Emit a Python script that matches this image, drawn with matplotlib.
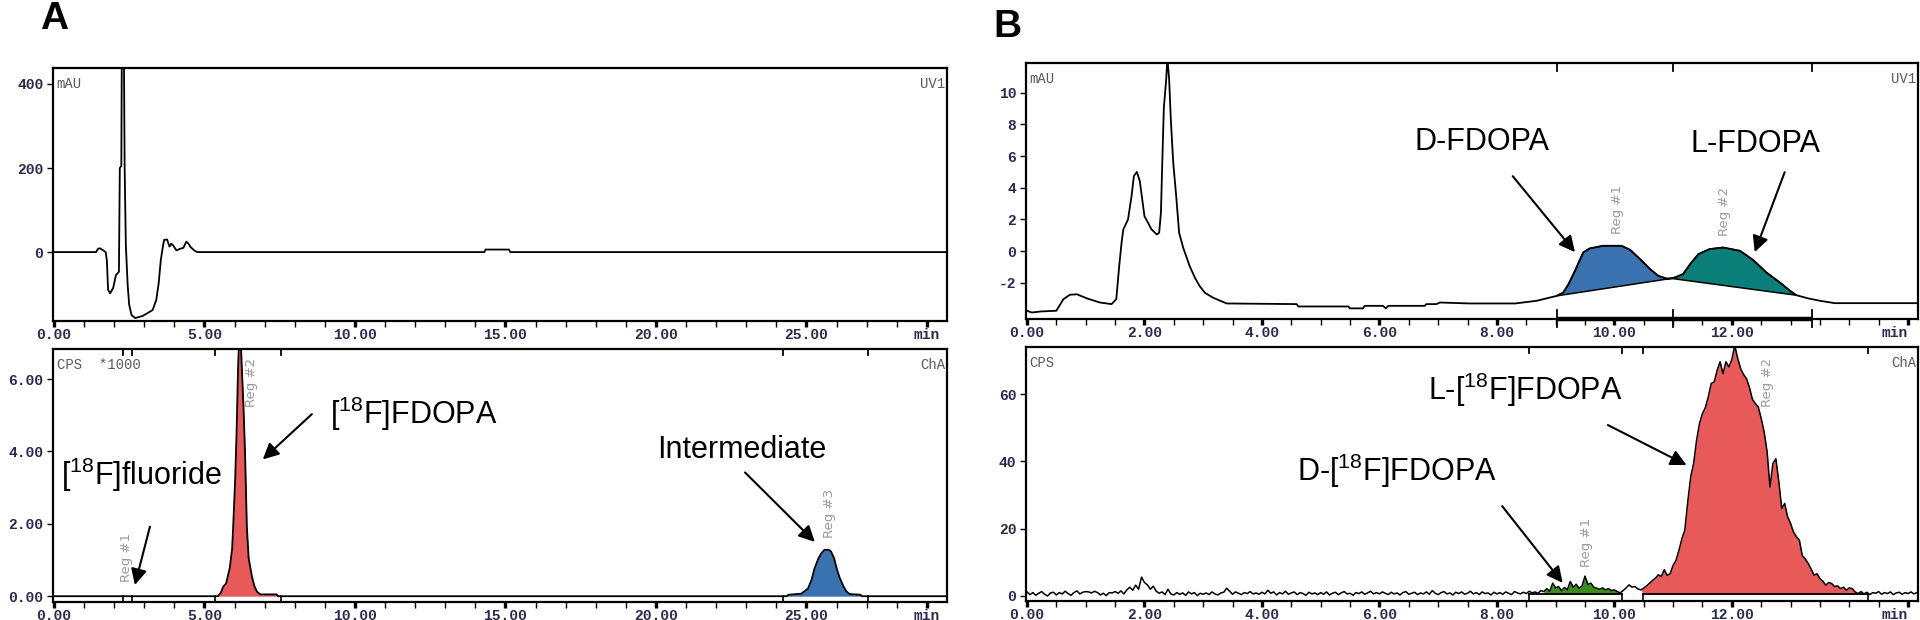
import numpy as np
import matplotlib.pyplot as plt

plt.rcParams['font.family'] = ['Liberation Sans', 'DejaVu Sans']
plt.rcParams['mathtext.fontset'] = 'custom'
plt.rcParams['mathtext.rm'] = 'Liberation Sans'

# ---------------- Panel A: UV trace (mAU) ----------------
a_uv_t = [0.00, 1.40, 1.47, 1.53, 1.62, 1.72, 1.76, 1.80, 1.87, 1.97,
          2.06, 2.16, 2.19, 2.24, 2.26, 2.32, 2.35, 2.39, 2.45, 2.50,
          2.58, 2.70, 2.95, 3.28, 3.40, 3.48, 3.55, 3.60, 3.66, 3.76,
          3.84, 3.90, 3.97, 4.07, 4.20, 4.30, 4.40, 4.47, 4.54, 4.66,
          4.76, 14.30, 14.34, 15.12, 15.16, 29.70]
a_uv_v = [0, 0, 8, 9, 5, 0, -20, -90, -98, -85,
          -55, -47, 200, 205, 540, 540, 200, 17, -78, -125,
          -150, -157, -152, -138, -114, -75, -20, 4, 29, 30,
          13, 20, 15, 4, 8, 10, 25, 20, 12, 4,
          0, 0, 6, 6, 0, 0]

# ---------------- Panel A: radio trace (CPS*1000) ----------------
a_rad_t = [0.00, 5.45, 5.55, 5.62, 5.72, 5.84, 5.92, 5.96, 6.02, 6.07,
           6.12, 6.16, 6.20, 6.24, 6.30, 6.35, 6.41, 6.47, 6.58, 6.66,
           6.75, 6.86, 7.40, 7.45, 24.35, 24.40, 24.83, 25.05, 25.17, 25.27,
           25.40, 25.49, 25.60, 25.75, 25.82, 25.92, 25.99, 26.10, 26.21, 26.32,
           26.43, 26.80, 26.85, 29.70]
a_rad_v = [0, 0, 0.10, 0.26, 0.35, 0.77, 1.30, 2.00, 3.18, 4.56,
           6.37, 7.20, 7.20, 6.37, 5.20, 3.96, 1.92, 1.05, 0.54, 0.28,
           0.12, 0.05, 0.05, 0, 0, 0.04, 0.07, 0.21, 0.45, 0.77,
           1.05, 1.18, 1.28, 1.28, 1.23, 1.05, 0.81, 0.52, 0.31, 0.14,
           0.06, 0.04, 0, 0]
a_reg_bounds = [2.30, 2.60, 5.35, 7.56, 24.21, 27.03]
a_reg_names = ['Reg #1', 'Reg #2', 'Reg #3']
a_reg_label_pos = [(2.42, 1.08), (6.57, 5.9), (25.78, 2.28)]

# ---------------- Panel B: UV trace (mAU) ----------------
b_uv_t = [0.00, 0.08, 0.25, 0.50, 0.62, 0.73, 0.85, 1.02, 1.24, 1.44,
          1.52, 1.57, 1.61, 1.64, 1.72, 1.78, 1.82, 1.87, 1.92, 2.00,
          2.12, 2.21, 2.25, 2.28, 2.30, 2.33, 2.37, 2.39, 2.42, 2.45,
          2.49, 2.54, 2.59, 2.66, 2.77, 2.86, 2.94, 3.03, 3.17, 3.40,
          4.59, 4.62, 5.47, 5.50, 5.72, 5.75, 6.06, 6.11, 6.15, 6.77,
          6.80, 6.97, 7.03, 7.54, 8.31, 8.68, 9.02, 9.13, 9.22, 9.33,
          9.47, 9.58, 9.81, 10.12, 10.27, 10.44, 10.61, 10.75, 10.89, 10.97,
          11.03, 11.17, 11.29, 11.43, 11.62, 11.85, 12.14, 12.36, 12.59, 12.82,
          12.99, 13.10, 13.30, 13.50, 13.75, 15.17]
b_uv_v = [-3.76, -3.87, -3.80, -3.76, -3.03, -2.75, -2.72, -2.98, -3.24, -3.34,
          -3.03, -0.93, 0.53, 1.37, 2.00, 3.48, 4.74, 5.00, 4.43, 2.21,
          1.37, 1.05, 1.16, 2.42, 5.16, 9.05, 10.84, 12.20, 10.84, 8.20,
          5.58, 3.48, 1.16, 0.21, -0.95, -1.68, -2.21, -2.63, -2.94, -3.30,
          -3.34, -3.49, -3.49, -3.61, -3.61, -3.45, -3.45, -3.61, -3.45, -3.45,
          -3.34, -3.34, -3.24, -3.30, -3.30, -3.13, -2.82, -2.61, -2.08, -1.24,
          -0.08, 0.17, 0.34, 0.34, 0.08, -0.51, -1.14, -1.56, -1.73, -1.72,
          -1.66, -1.45, -0.82, -0.19, 0.13, 0.23, 0.02, -0.55, -1.35, -1.98,
          -2.50, -2.78, -2.98, -3.13, -3.28, -3.28]
b_uv_regions = [(9.02, 10.97), (10.97, 13.10)]
b_uv_marks = [9.02, 11.0, 13.36]
b_uv_names = ['Reg #1', 'Reg #2']
b_uv_label_pos = [(10.06, 2.65), (11.88, 2.52)]

# ---------------- Panel B: radio trace (CPS), sampled every 0.05 min ----------------
b_rad_step = 0.05
b_rad_v = [
    1.2, 0.4, 1.0, 0.2, 0.8, 1.3, 0.5, 0.0, 0.9, 1.1, 0.3, 1.0, 0.6, 1.4, 0.7, 0.2, 1.0, 1.5, 0.6, 1.1,
    1.3, 1.2, 0.9, 1.4, 1.0, 0.3, 0.8, 0.1, 1.0, 0.9, 1.3, 0.8, 1.5, 0.6, 1.8, 2.6, 1.7, 3.2, 2.0, 5.6,
    4.0, 3.3, 2.0, 2.9, 1.4, 0.8, 1.2, 0.4, 2.0, 0.6, 0.3, 1.0, 0.5, 0.9, 0.2, 1.2, 0.6, 1.0, 0.1, 0.8,
    0.5, 0.9, 0.4, 1.2, 0.6, 0.3, 0.9, 1.1, 2.3, 1.4, 0.5, 1.2, 0.8, 0.4, 1.0, 0.7, 1.3, 0.6, 0.9, 0.5,
    1.1, 0.6, 1.7, 0.8, 1.2, 0.3, 1.0, 0.6, 1.4, 0.5, 0.9, 1.2, 0.4, 1.0, 0.7, 0.2, 1.1, 0.6, 0.9, 0.4,
    1.0, 0.5, 1.2, 0.3, 0.8, 1.1, 0.4, 0.9, 1.3, 0.6, 0.8, 0.2, 1.0, 0.7, 1.2, 0.5, 0.9, 1.4, 0.6, 1.0,
    0.6, 1.2, 0.8, 0.4, 1.1, 0.6, 0.9, 0.3, 1.0, 1.3, 0.5, 0.8, 1.1, 0.4, 0.9, 0.6, 1.2, 0.5, 1.6, 0.8,
    0.4, 1.0, 1.3, 0.6, 0.9, 0.3, 1.1, 0.7, 1.2, 0.5, 0.8, 1.4, 0.6, 1.0, 0.4, 1.2, 0.7, 0.9, 0.3, 1.1,
    0.6, 1.0, 0.5, 1.2, 0.8, 0.4, 1.3, 0.9, 0.6, 1.1, 0.7, 1.4, 0.9, 1.2, 0.8, 1.6, 1.3, 2.2, 1.4, 3.8,
    2.4, 2.8, 1.6, 2.5, 1.9, 4.3, 2.6, 3.5, 2.2, 3.0, 5.9, 3.4, 3.8, 2.6, 2.3, 2.0, 2.4, 1.8, 2.2, 1.6,
    1.8, 1.3, 0.9, 1.6, 2.4, 3.3, 2.6, 2.8, 2.1, 1.8, 2.3, 3.0, 3.8, 4.6, 5.3, 6.3, 5.8, 7.8, 6.1, 6.6,
    9.1, 10.6, 13.6, 17.0, 19.6, 28.0, 35.4, 39.4, 46.3, 51.3, 54.2, 56.0, 59.2, 63.2, 63.6, 67.1, 69.6, 66.1, 69.6, 68.1,
    70.2, 74.5, 70.6, 67.6, 65.8, 64.6, 62.0, 58.5, 57.2, 56.2, 52.8, 48.8, 43.0, 32.4, 39.4, 40.8, 34.0, 26.0, 27.5, 23.5,
    21.6, 19.0, 17.6, 16.6, 12.0, 11.0, 9.7, 8.0, 6.2, 6.6, 5.2, 4.4, 3.2, 4.0, 3.7, 2.8, 3.0, 2.2, 2.6, 1.7,
    2.4, 2.2, 1.2, 0.7, 1.3, 0.6, 1.1, 0.4, 1.0, 0.8, 1.3, 0.5, 1.0, 0.7, 1.2, 0.4, 0.9, 1.1, 0.5, 1.0,
    0.7, 1.2, 0.6, 1.0,
]
b_rad_regions = [(8.55, 10.13), (10.49, 14.32)]
b_rad_fill = [(8.80, 10.10), (10.50, 14.20)]
b_rad_base = 0.5
b_rad_names = ['Reg #1', 'Reg #2']
b_rad_label_pos = [(9.53, 16.0), (12.6, 63.6)]

RED = '#e85a5a'
BLUE = '#3a72b0'
TEAL = '#0a7f7a'
GREEN = '#3d8c1e'
TICK_FONT = dict(family='Liberation Mono', size=10.5, color='#2a2a4a', weight='bold')
CORNER_FONT = dict(family='Liberation Mono', fontsize=10, color='#5f5566')
REG_FONT = dict(family='DejaVu Sans', fontsize=9.5, color='#9a9a9a', rotation=90,
                ha='center', va='center')

fig = plt.figure(figsize=(19.2, 6.2), dpi=100)
W, H = 1920.0, 620.0


def make_axes(left, top, right, bottom):
    return fig.add_axes([left / W, 1 - bottom / H, (right - left) / W, (bottom - top) / H])


def style(ax, xlim, major, labels, minor_step, yticks, ylabels, min_right=False):
    ax.set_xlim(*xlim)
    ax.set_xticks(major)
    ax.set_xticklabels(labels)
    ax.set_xticks(np.arange(0, xlim[1], minor_step), minor=True)
    ax.set_yticks(yticks)
    ax.set_yticklabels(ylabels)
    for s in ax.spines.values():
        s.set_linewidth(1.6)
    ax.tick_params(axis='x', which='major', direction='out', length=4, width=2.4, pad=1)
    ax.tick_params(axis='x', which='minor', direction='out', length=4, width=1)
    ax.tick_params(axis='y', direction='out', length=4, width=1, pad=3)
    for lab in ax.get_xticklabels() + ax.get_yticklabels():
        lab.set_fontfamily(TICK_FONT['family'])
        lab.set_fontsize(TICK_FONT['size'])
        lab.set_color(TICK_FONT['color'])
        lab.set_fontweight(TICK_FONT['weight'])
    if min_right:
        ax.get_xticklabels()[-1].set_horizontalalignment('right')


def corner(ax, left_text, right_text):
    ax.text(0.004, 0.965, left_text, transform=ax.transAxes, ha='left', va='top', **CORNER_FONT)
    ax.text(0.998, 0.965, right_text, transform=ax.transAxes, ha='right', va='top', **CORNER_FONT)


def arrow(ax, tail, tip):
    ax.annotate('', xy=tip, xytext=tail,
                arrowprops=dict(arrowstyle='-|>', color='k', lw=1.5, mutation_scale=24,
                                shrinkA=0, shrinkB=0))


LBL = dict(ha='center', va='center', fontsize=22, color='k')
F18 = r'$\mathregular{^{18}}$'

# ---------- A top ----------
ax1 = make_axes(53, 68, 947, 321)
ax1.plot(a_uv_t, a_uv_v, color='k', lw=1.3)
ax1.set_ylim(-164, 438)
style(ax1, (-0.03, 29.67), [0, 5, 10, 15, 20, 25, 29],
      ['0.00', '5.00', '10.00', '15.00', '20.00', '25.00', 'min'], 1,
      [0, 200, 400], ['0', '200', '400'])
corner(ax1, 'mAU', 'UV1')

# ---------- A bottom ----------
ax2 = make_axes(53, 349, 947, 602)
t = np.array(a_rad_t)
v = np.array(a_rad_v)
ax2.fill_between(t, v, 0, where=(t >= 5.4) & (t <= 7.5), color=RED, lw=0)
ax2.fill_between(t, v, 0, where=(t >= 24.3) & (t <= 26.9), color=BLUE, lw=0)
ax2.plot(t, v, color='k', lw=1.3)
ax2.set_ylim(-0.16, 6.83)
style(ax2, (-0.03, 29.67), [0, 5, 10, 15, 20, 25, 29],
      ['0.00', '5.00', '10.00', '15.00', '20.00', '25.00', 'min'], 1,
      [0, 2, 4, 6], ['0.00', '2.00', '4.00', '6.00'])
xt = ax2.get_xaxis_transform()
for b in a_reg_bounds:
    ax2.plot([b, b], [1.0, 0.975], transform=xt, color='k', lw=1.3, clip_on=False)
    ax2.plot([b, b], [-0.16, 0], color='k', lw=1.2)
for name, (x, y) in zip(a_reg_names, a_reg_label_pos):
    ax2.text(x, y, name, **REG_FONT)
corner(ax2, 'CPS  *1000', 'ChA')
ax2.text(2.92, 3.36, '[' + F18 + 'F]fluoride', **LBL)
arrow(ax2, (3.19, 1.92), (2.69, 0.31))
ax2.text(11.96, 5.03, '[' + F18 + 'F]FDOPA', **LBL)
arrow(ax2, (8.57, 5.03), (6.94, 3.78))
ax2.text(22.86, 4.03, 'Intermediate', **LBL)
arrow(ax2, (22.96, 3.42), (25.28, 1.50))

# ---------- B top ----------
ax3 = make_axes(1026, 63, 1918, 319)
bt = np.array(b_uv_t)
bv = np.array(b_uv_v)
for (t0, t1), col in zip(b_uv_regions, [BLUE, TEAL]):
    m = (bt >= t0) & (bt <= t1)
    ax3.fill(bt[m], bv[m], facecolor=col, edgecolor='k', lw=1.1)
ax3.plot(bt, bv, color='k', lw=1.3)
ax3.set_ylim(-4.28, 11.87)
style(ax3, (-0.017, 15.17), [0, 2, 4, 6, 8, 10, 12, 15],
      ['0.00', '2.00', '4.00', '6.00', '8.00', '10.00', '12.00', 'min'], 0.5,
      [-2, 0, 2, 4, 6, 8, 10], ['-2', '0', '2', '4', '6', '8', '10'], min_right=True)
xt = ax3.get_xaxis_transform()
ax3.plot([b_uv_marks[0], b_uv_marks[-1]], [0, 0], transform=xt, color='k', lw=3.2,
         clip_on=False, solid_capstyle='butt')
for b in b_uv_marks:
    ax3.plot([b, b], [-0.03, 0.035], transform=xt, color='k', lw=1.3, clip_on=False)
    ax3.plot([b, b], [1.0, 0.97], transform=xt, color='k', lw=1.3, clip_on=False)
for name, (x, y) in zip(b_uv_names, b_uv_label_pos):
    ax3.text(x, y, name, **REG_FONT)
corner(ax3, 'mAU', 'UV1')
ax3.text(7.74, 6.88, 'D-FDOPA', **LBL)
arrow(ax3, (8.27, 4.73), (9.33, -0.06))
ax3.text(12.41, 6.75, 'L-FDOPA', **LBL)
arrow(ax3, (12.90, 4.98), (12.39, -0.06))

# ---------- B bottom ----------
ax4 = make_axes(1026, 347, 1918, 601)
rv = np.array(b_rad_v)
rt = np.arange(len(rv)) * b_rad_step
for (t0, t1), col in zip(b_rad_fill, [GREEN, RED]):
    m = (rt >= t0 - 1e-6) & (rt <= t1 + 1e-6)
    ax4.fill_between(rt, rv, b_rad_base, where=m & (rv > b_rad_base), interpolate=True,
                     color=col, lw=0)
ax4.plot(rt, rv, color='k', lw=1.1)
ax4.set_ylim(-1.5, 74)
style(ax4, (-0.017, 15.17), [0, 2, 4, 6, 8, 10, 12, 15],
      ['0.00', '2.00', '4.00', '6.00', '8.00', '10.00', '12.00', 'min'], 0.5,
      [0, 20, 40, 60], ['0', '20', '40', '60'], min_right=True)
xt = ax4.get_xaxis_transform()
for t0, t1 in b_rad_regions:
    ax4.plot([t0, t1], [b_rad_base, b_rad_base], color='k', lw=1.3)
    for b in (t0, t1):
        ax4.plot([b, b], [-1.5, b_rad_base], color='k', lw=1.2)
        ax4.plot([b, b], [1.0, 0.975], transform=xt, color='k', lw=1.3, clip_on=False)
for name, (x, y) in zip(b_rad_names, b_rad_label_pos):
    ax4.text(x, y, name, **REG_FONT)
corner(ax4, 'CPS', 'ChA')
ax4.text(8.48, 61.2, 'L-[' + F18 + 'F]FDOPA', **LBL)
arrow(ax4, (9.89, 50.8), (11.23, 38.9))
ax4.text(6.30, 37.1, 'D-[' + F18 + 'F]FDOPA', **LBL)
arrow(ax4, (8.09, 26.7), (9.12, 3.9))

# panel letters
fig.text(40 / W, 1 - 29 / H, 'A', fontsize=28, fontweight='bold', va='baseline')
fig.text(993 / W, 1 - 37 / H, 'B', fontsize=28, fontweight='bold', va='baseline')

fig.savefig('out.png', dpi=100)
